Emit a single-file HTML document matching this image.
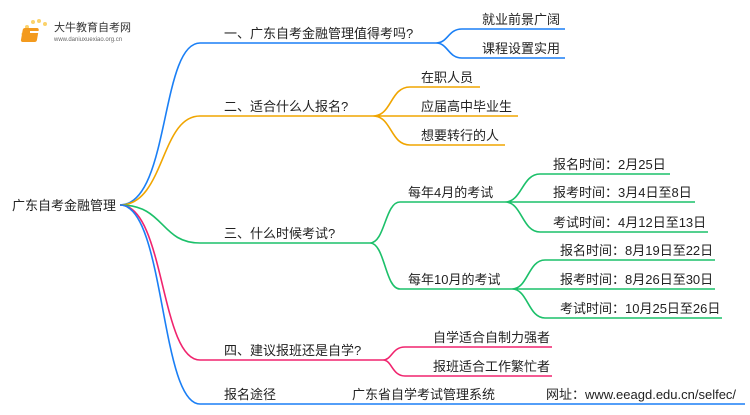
<!DOCTYPE html>
<html><head><meta charset="utf-8"><style>
body{margin:0;background:#fff;width:750px;height:410px;overflow:hidden}
text{font-family:"Liberation Sans","Noto Sans CJK SC",sans-serif;font-size:13px;fill:#222}
</style></head><body>
<svg width="750" height="410" viewBox="0 0 750 410" xmlns="http://www.w3.org/2000/svg">
<g fill="none" stroke-width="1.6">
<path d="M120 205 C170 205,160 43,200 43 L436 43" stroke="#1a7ff5"/>
<path d="M436 43 C448 43,448 29,462 29 L565 29 M436 43 C448 43,448 58,462 58 L565 58" stroke="#1a7ff5"/>
<path d="M120 205 C165 205,160 116,200 116 L373 116" stroke="#f0a500"/>
<path d="M373 116 C392 116,390 87,410 87 L480 87 M373 116 L518 116 M373 116 C392 116,390 145,410 145 L505 145" stroke="#f0a500"/>
<path d="M120 205 C165 205,160 243,200 243 L370 243" stroke="#1cc06a"/>
<path d="M370 243 C385 243,385 202,400 202 L505 202 M370 243 C385 243,385 289,400 289 L512 289" stroke="#1cc06a"/>
<path d="M505 202 C522 202,522 174,540 174 L670 174 M505 202 L695 202 M505 202 C522 202,522 232,540 232 L708 232" stroke="#1cc06a"/>
<path d="M512 289 C528 289,528 260,545 260 L715 260 M512 289 L715 289 M512 289 C528 289,528 318,545 318 L722 318" stroke="#1cc06a"/>
<path d="M120 205 C165 205,160 360,200 360 L383 360" stroke="#f0246e"/>
<path d="M383 360 C392 360,392 347,405 347 L552 347 M383 360 C392 360,392 376,405 376 L552 376" stroke="#f0246e"/>
<path d="M120 205 C165 205,160 404,200 404 L745 404" stroke="#1a7ff5"/>
</g>
<g>
<circle cx="27" cy="27" r="2" fill="#fbd26a"/><circle cx="33" cy="22" r="2" fill="#fbd26a"/><circle cx="39" cy="21" r="2" fill="#fbd26a"/><circle cx="45" cy="24" r="2" fill="#fbd26a"/><circle cx="23" cy="34" r="1.5" fill="#fbd26a"/>
<rect x="28" y="28" width="16" height="14" rx="2" fill="#f39a1e" transform="skewX(-10)"/>
<rect x="30" y="31" width="10" height="2" fill="#fff"/>
</g>
<text x="54" y="31" style="font-size:11px;fill:#333">大牛教育自考网</text>
<text x="54" y="41" style="font-size:6px;fill:#666">www.daniuxuexiao.org.cn</text>
<text x="12" y="210">广东自考金融管理</text>
<text x="224" y="38">一、广东自考金融管理值得考吗?</text>
<text x="482" y="24">就业前景广阔</text>
<text x="482" y="53">课程设置实用</text>
<text x="224" y="111">二、适合什么人报名?</text>
<text x="421" y="82">在职人员</text>
<text x="421" y="111">应届高中毕业生</text>
<text x="421" y="140">想要转行的人</text>
<text x="224" y="238">三、什么时候考试?</text>
<text x="408" y="197">每年4月的考试</text>
<text x="408" y="284">每年10月的考试</text>
<text x="553" y="169">报名时间：2月25日</text>
<text x="553" y="197">报考时间：3月4日至8日</text>
<text x="553" y="227">考试时间：4月12日至13日</text>
<text x="560" y="255">报名时间：8月19日至22日</text>
<text x="560" y="284">报考时间：8月26日至30日</text>
<text x="560" y="313">考试时间：10月25日至26日</text>
<text x="224" y="355">四、建议报班还是自学?</text>
<text x="433" y="342">自学适合自制力强者</text>
<text x="433" y="371">报班适合工作繁忙者</text>
<text x="224" y="399">报名途径</text>
<text x="352" y="399">广东省自学考试管理系统</text>
<text x="546" y="399">网址：www.eeagd.edu.cn/selfec/</text>
</svg>
</body></html>
